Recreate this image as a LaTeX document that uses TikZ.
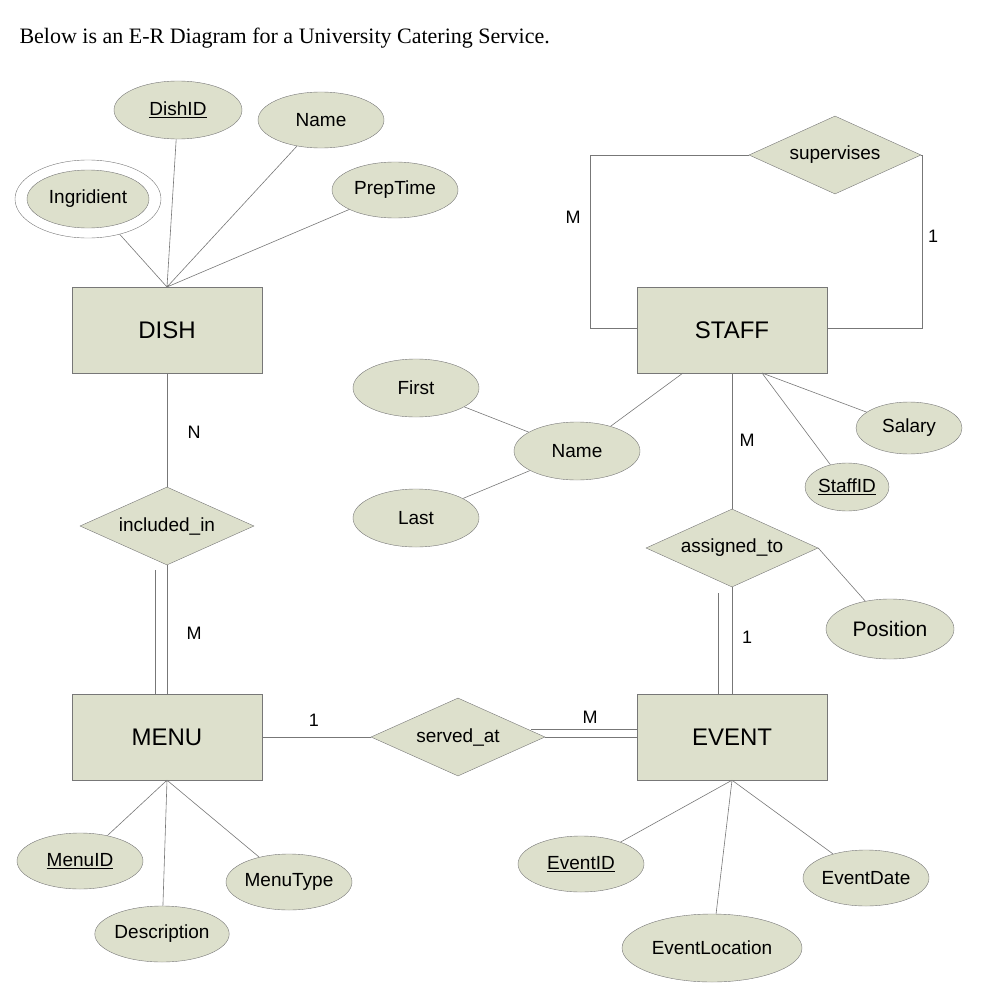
\documentclass[tikz,border=0pt]{standalone}
\usepackage{fontspec}
\setmainfont{Liberation Sans}
\newfontfamily\tms{Liberation Serif}
\usetikzlibrary{shapes.geometric}
\definecolor{fl}{HTML}{DDE0CC}
\definecolor{ln}{HTML}{777777}
\begin{document}
\begin{tikzpicture}[x=1pt,y=-1pt,
 ent/.style={draw=ln,fill=fl,minimum width=190pt,minimum height=86pt,inner sep=0,font=\fontsize{24}{24}\selectfont},
 att/.style={draw=ln,fill=fl,ellipse,minimum width=126pt,minimum height=56pt,inner sep=0,font=\fontsize{19}{19}\selectfont},
 rel/.style={draw=ln,fill=fl,diamond,aspect=2.2,minimum width=174pt,minimum height=78pt,inner sep=0,font=\fontsize{19}{19}\selectfont},
 lab/.style={font=\fontsize{18}{18}\selectfont},
 l/.style={draw=ln,line width=0.6pt}]
\useasboundingbox (0,0) rectangle (1006,1006);
\node[anchor=base west,font=\tms\fontsize{22}{22}\selectfont] (title) at (16,44) {Below is an E-R Diagram for a University Catering Service.};
% entities
\node[ent] (dish) at (167,330) {DISH};
\node[ent] (staff) at (732,330) {STAFF};
\node[ent] (menu) at (167,737) {MENU};
\node[ent] (event) at (732,737) {EVENT};
% relationships
\node[rel,minimum width=172pt] (sup) at (835,155) {supervises};
\node[rel] (inc) at (167,526) {included\_in};
\node[rel,minimum width=172pt] (asg) at (732,548) {assigned\_to};
\node[rel] (srv) at (458,737) {served\_at};
% attributes
\node[att,minimum width=128pt,minimum height=58pt] (dishid) at (178,110) {\underline{DishID}};
\node[att] (dname) at (321,120) {Name};
\node[att] (prep) at (395,190) {PrepTime};
\node[draw=ln,ellipse,minimum width=146pt,minimum height=78pt] (ingo) at (88,199) {};
\node[att,minimum width=122pt,minimum height=58pt] (ing) at (88,199) {Ingridient};
\node[att,minimum height=58pt] (first) at (416,388) {First};
\node[att,minimum height=58pt] (last) at (416,518) {Last};
\node[att,minimum height=58pt] (sname) at (577,451) {Name};
\node[att,minimum width=106pt,minimum height=52pt] (salary) at (909,428) {Salary};
\node[att,minimum width=84pt,minimum height=48pt] (staffid) at (847,487) {\underline{StaffID}};
\node[att,minimum width=128pt,minimum height=60pt,font=\fontsize{21}{21}\selectfont] (pos) at (890,629) {Position};
\node[att] (menuid) at (80,861) {\underline{MenuID}};
\node[att] (desc) at (162,934) {Description};
\node[att] (mtype) at (289,882) {MenuType};
\node[att] (eventid) at (581,864) {\underline{EventID}};
\node[att,minimum width=180pt,minimum height=68pt] (eloc) at (712,948) {EventLocation};
\node[att] (edate) at (866,878) {EventDate};
% connectors
\coordinate (dt) at (167,287);
\path[l] (dishid) -- (dt) (dname) -- (dt) (prep) -- (dt) (ingo) -- (dt);
\coordinate (sl) at (590,155); \coordinate (sl2) at (590,328);
\coordinate (sr) at (922,155); \coordinate (sr2) at (922,328);
\path[l] (sup.west) -- (sl) -- (sl2) -- (staff.west|-sl2);
\path[l] (sup.east) -- (sr) -- (sr2) -- (staff.east|-sr2);
\path[l] (dish) -- (inc);
\path[l] (inc.south) -- (menu.north);
\path[l] ([xshift=-12pt,yshift=-5pt]inc.south) -- ([xshift=-12pt]menu.north);
\path[l] (staff) -- (asg);
\path[l] (asg.south) -- (event.north);
\path[l] ([xshift=-14pt,yshift=-6pt]asg.south) -- ([xshift=-14pt]event.north);
\path[l] (asg.east) -- (pos);
\path[l] (menu) -- (srv);
\path[l] (srv.east) -- (event.west);
\path[l] ([xshift=-14pt,yshift=8pt]srv.east) -- ([yshift=8pt]event.west);
\coordinate (sb) at (683,373);
\path[l] (sname) -- (sb) (first) -- (sname) (last) -- (sname);
\coordinate (sb2) at (762,373);
\path[l] (sb2) -- (salary) (sb2) -- (staffid);
\path[l] (menu.south) -- (menuid) (menu.south) -- (desc) (menu.south) -- (mtype);
\path[l] (event.south) -- (eventid) (event.south) -- (eloc) (event.south) -- (edate);
% cardinalities
\node[lab] (c1) at (573,217) {M};
\node[lab] (c2) at (933,236) {1};
\node[lab] (c3) at (194,432) {N};
\node[lab] (c4) at (194,633) {M};
\node[lab] (c5) at (747,440) {M};
\node[lab] (c6) at (747,637) {1};
\node[lab] (c7) at (314,720) {1};
\node[lab] (c8) at (590,717) {M};
\end{tikzpicture}
\end{document}
